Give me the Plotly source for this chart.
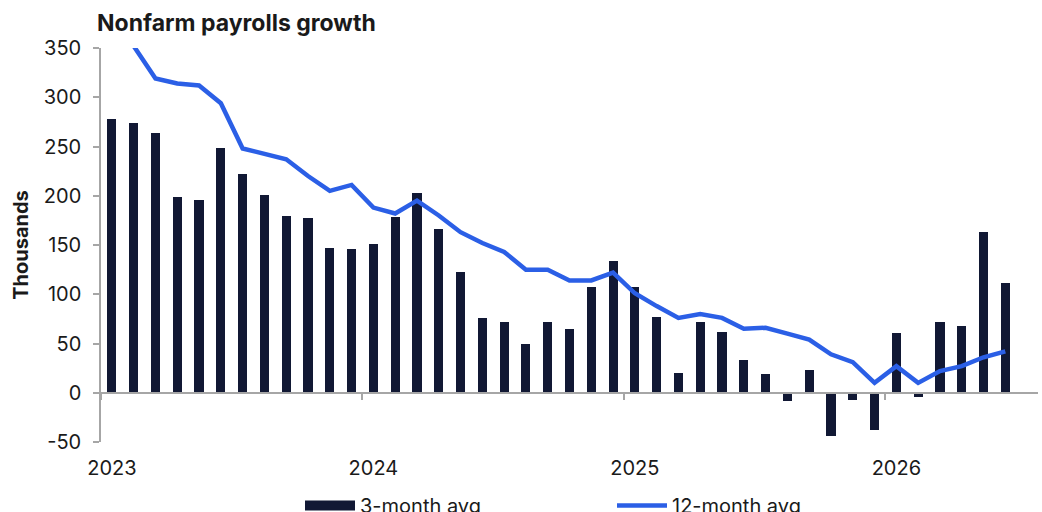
import plotly.graph_objects as go

# ---- data ----
months = [f"{m} {y}" for y in (2023, 2024, 2025, 2026)
          for m in ("Jan", "Feb", "Mar", "Apr", "May", "Jun",
                    "Jul", "Aug", "Sep", "Oct", "Nov", "Dec")][:42]

avg_3m = [278, 274, 264, 199, 196, 248, 222, 201, 179, 177, 147, 146,
          151, 178, 203, 166, 123, 76, 72, 49, 72, 65, 107, 134,
          107, 77, 20, 72, 62, 33, 19, -8, 23, -44, -7, -38,
          61, -4, 72, 68, 163, 111]

avg_12m = [390, 352, 319, 314, 312, 294, 248, 242, 237, 220, 205, 211,
           188, 182, 195, 180, 163, 152, 143, 125, 125, 114, 114, 122,
           101, 88, 76, 80, 76, 65, 66, 60, 54, 39, 31, 10,
           27, 10, 22, 27, 36, 42]

year_labels = ["2023", "2024", "2025", "2026"]
y_ticks = [-50, 0, 50, 100, 150, 200, 250, 300, 350]
y_tick_text = [str(v) for v in y_ticks]

idx = list(range(len(months)))
year_start_idx = [months.index(f"Jan {y}") for y in year_labels]
year_bound = [i - 0.5 for i in year_start_idx]

NAVY = "#111834"
BLUE = "#2b5fe6"
GRAY = "#a6a6a6"
FONT = "Inter"
TXT = "#1a1a1a"

fig = go.Figure()
fig.add_trace(go.Bar(
    x=idx, y=avg_3m, name="3-month avg", xaxis="x", yaxis="y",
    marker=dict(color=NAVY, line=dict(width=0)), width=0.42,
    showlegend=False, legendgroup="b",
    customdata=months, hovertemplate="%{customdata}: %{y}<extra></extra>",
))
# legend swatch for the bars (wide rectangle, as in the original)
fig.add_trace(go.Scatter(
    x=[None], y=[None], name="3-month avg", xaxis="x", yaxis="y",
    mode="lines", line=dict(color=NAVY, width=13), legendgroup="b",
    hoverinfo="skip",
))
fig.add_trace(go.Scatter(
    x=idx, y=avg_12m, name="12-month avg", xaxis="x2", yaxis="y",
    mode="lines", line=dict(color=BLUE, width=4.5),
    customdata=months, hovertemplate="%{customdata}: %{y}<extra></extra>",
))

x_range = [-0.5, len(months) + 0.5]
y_range = [-50, 350]
zero_pos = (0 - y_range[0]) / (y_range[1] - y_range[0])

fig.update_layout(
    width=1042, height=512, autosize=False,
    margin=dict(l=101, r=4, t=48, b=70),
    paper_bgcolor="white", plot_bgcolor="white",
    font=dict(family=FONT, color=TXT, size=20),
    bargap=0,
    title=dict(text="<b>Nonfarm payrolls growth</b>", font=dict(family=FONT, size=23, color=TXT),
               x=97 / 1042, xanchor="left", xref="container",
               y=1 - 23 / 512, yanchor="middle", yref="container"),
    xaxis=dict(range=x_range, anchor="free", position=zero_pos, domain=[0, 1],
               showline=True, linecolor=GRAY, linewidth=1.5,
               ticks="outside", ticklen=6, tickwidth=1.5, tickcolor=GRAY,
               tickvals=year_bound, showticklabels=False,
               showgrid=False, zeroline=False),
    xaxis2=dict(range=x_range, overlaying="x", anchor="y", side="bottom",
                showline=False, ticks="", tickvals=year_start_idx, ticktext=year_labels,
                ticklabelstandoff=12,
                tickfont=dict(size=20, color=TXT), showgrid=False, zeroline=False),
    yaxis=dict(range=y_range, tickvals=y_ticks, ticktext=y_tick_text,
               showgrid=False, zeroline=False,
               showline=True, linecolor=GRAY, linewidth=1.5,
               ticks="outside", ticklen=6, tickwidth=1.5, tickcolor=GRAY,
               ticklabelstandoff=8,
               tickfont=dict(size=20, color=TXT),
               title=dict(text="<b>Thousands</b>", font=dict(size=20, color=TXT), standoff=10)),
    legend=dict(orientation="h", xref="container", yref="container",
                x=300 / 1042, xanchor="left", y=1 - 486 / 512, yanchor="top",
                font=dict(size=20, color=TXT), entrywidth=247, entrywidthmode="pixels",
                itemwidth=50, bgcolor="rgba(0,0,0,0)", traceorder="normal"),
    showlegend=True,
)

fig.write_html("out.html")
